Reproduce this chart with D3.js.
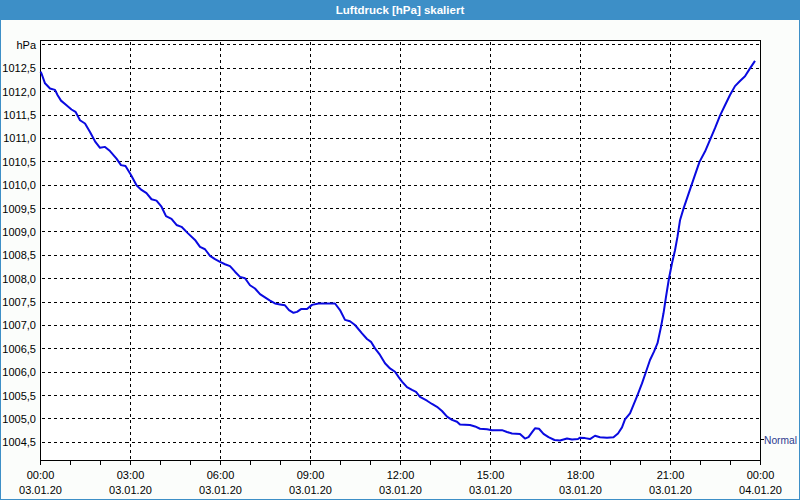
<!DOCTYPE html>
<html><head><meta charset="utf-8">
<script src="https://cdn.jsdelivr.net/npm/d3@7"></script>
<style>
html,body{margin:0;padding:0;background:#fbfdfb;}
svg{display:block;}
</style></head>
<body>
<svg id="chart" width="800" height="500"></svg>
<script>
// ---- data ----
const title = "Luftdruck [hPa] skaliert";
const unitLabel = "hPa";
const normalLabel = "Normal";
const normalValue = 1004.55;
// minutes after 03.01.20 00:00
const minutes = [0,2,9,19,29,34,41,52,62,70,79,89,99,109,119,129,139,152,161,170,181,192,202,212,222,232,242,251,262,272,282,295,309,319,329,339,349,359,369,379,389,399,409,419,429,439,449,459,469,479,489,497,506,513,521,533,543,556,576,589,599,609,619,629,643,653,661,669,679,689,699,709,716,723,733,743,751,759,773,783,793,803,813,823,833,839,859,869,879,893,903,923,933,943,959,969,976,984,989,997,1006,1016,1028,1039,1053,1063,1075,1079,1089,1099,1109,1119,1133,1146,1155,1163,1169,1179,1186,1194,1203,1211,1219,1227,1234,1241,1246,1251,1257,1263,1269,1274,1279,1286,1294,1301,1309,1318,1329,1339,1349,1359,1369,1379,1389,1399,1409,1419,1429];
const pressure = [1012.43,1012.39,1012.18,1012.07,1012.04,1011.93,1011.81,1011.71,1011.62,1011.57,1011.39,1011.32,1011.14,1010.94,1010.80,1010.82,1010.73,1010.57,1010.43,1010.41,1010.22,1010.00,1009.90,1009.83,1009.70,1009.67,1009.54,1009.34,1009.28,1009.15,1009.11,1008.97,1008.83,1008.68,1008.63,1008.49,1008.42,1008.36,1008.31,1008.27,1008.15,1008.04,1008.01,1007.86,1007.79,1007.67,1007.60,1007.53,1007.47,1007.45,1007.43,1007.33,1007.27,1007.29,1007.35,1007.35,1007.44,1007.47,1007.47,1007.47,1007.33,1007.12,1007.09,1007.01,1006.83,1006.71,1006.65,1006.51,1006.37,1006.19,1006.08,1006.01,1005.90,1005.80,1005.68,1005.62,1005.58,1005.47,1005.39,1005.32,1005.26,1005.17,1005.05,1004.98,1004.94,1004.88,1004.87,1004.84,1004.79,1004.78,1004.76,1004.76,1004.72,1004.69,1004.68,1004.58,1004.61,1004.73,1004.80,1004.79,1004.68,1004.61,1004.55,1004.54,1004.58,1004.56,1004.57,1004.60,1004.59,1004.57,1004.64,1004.61,1004.60,1004.61,1004.69,1004.82,1004.99,1005.12,1005.30,1005.51,1005.76,1006.01,1006.26,1006.44,1006.62,1006.97,1007.26,1007.61,1008.01,1008.33,1008.61,1008.90,1009.25,1009.50,1009.75,1009.97,1010.22,1010.50,1010.72,1010.97,1011.22,1011.49,1011.71,1011.93,1012.12,1012.23,1012.33,1012.50,1012.66];
const yTicks = [1004.5,1005.0,1005.5,1006.0,1006.5,1007.0,1007.5,1008.0,1008.5,1009.0,1009.5,1010.0,1010.5,1011.0,1011.5,1012.0,1012.5];
const unitTick = 1013.0;
const xTickMinutes = [0,180,360,540,720,900,1080,1260,1440];
const xTimeLabels = ["00:00","03:00","06:00","09:00","12:00","15:00","18:00","21:00","00:00"];
const xDateLabels = ["03.01.20","03.01.20","03.01.20","03.01.20","03.01.20","03.01.20","03.01.20","03.01.20","04.01.20"];
const xMinorMinutes = d3.range(0, 1441, 60);

// ---- layout ----
const W = 800, H = 500;
const L = 40.5, R = 760.5, T = 40.5, B = 460.5;
const svg = d3.select("#chart");
const font = "'Liberation Sans', Arial, sans-serif";

const x = d3.scaleLinear().domain([0, 1440]).range([L, R]);
const y = d3.scaleLinear().domain([1004.111, 1013.096]).range([B, T]);
const snap = v => Math.round(v - 0.5) + 0.5;

// title bar
const blue = "#3d8fc7";
svg.append("rect").attr("x",0).attr("y",0).attr("width",W).attr("height",20).attr("fill",blue);
svg.append("rect").attr("x",0).attr("y",0).attr("width",1).attr("height",H).attr("fill",blue);
svg.append("rect").attr("x",W-1).attr("y",0).attr("width",1).attr("height",H).attr("fill",blue);
svg.append("rect").attr("x",0).attr("y",H-1).attr("width",W).attr("height",1).attr("fill",blue);
svg.append("text").attr("x",W/2).attr("y",14).attr("text-anchor","middle")
  .attr("font-family",font).attr("font-weight","bold").attr("font-size","11.5px")
  .attr("fill","#ffffff").text(title);

// plot area
svg.append("rect").attr("x",L).attr("y",T).attr("width",R-L).attr("height",B-T).attr("fill","#ffffff");

const grid = svg.append("g").attr("stroke","#000").attr("stroke-width",1).attr("stroke-dasharray","3,3").attr("shape-rendering","crispEdges");
grid.selectAll("line.h").data(yTicks.concat([unitTick])).enter().append("line")
  .attr("x1",L+1).attr("x2",R-1)
  .attr("y1",d=>snap(y(d))).attr("y2",d=>snap(y(d)));
grid.selectAll("line.v").data(xTickMinutes.slice(1,-1)).enter().append("line")
  .attr("x1",d=>snap(x(d))).attr("x2",d=>snap(x(d)))
  .attr("y1",T+1).attr("y2",B);

// frame
svg.append("rect").attr("x",L).attr("y",T).attr("width",R-L).attr("height",B-T)
  .attr("fill","none").attr("stroke","#000").attr("stroke-width",1).attr("shape-rendering","crispEdges");

// y labels
svg.append("g").selectAll("text").data(yTicks).enter().append("text")
  .attr("x",36).attr("y",d=>y(d)+4).attr("text-anchor","end")
  .attr("font-family",font).attr("font-size","11px").attr("fill","#000")
  .text(d=>d3.format(".1f")(d).replace(".",","));
svg.append("text").attr("x",36).attr("y",y(unitTick)+4).attr("text-anchor","end")
  .attr("font-family",font).attr("font-size","11px").attr("fill","#000").text(unitLabel);

// x axis ticks
svg.append("g").attr("stroke","#000").attr("shape-rendering","crispEdges")
  .selectAll("line").data(xMinorMinutes).enter().append("line")
  .attr("x1",d=>snap(x(d))).attr("x2",d=>snap(x(d)))
  .attr("y1",B).attr("y2",B+4);
const xl = svg.append("g").attr("font-family",font).attr("font-size","11px").attr("fill","#000").attr("text-anchor","middle");
xl.selectAll("text.t").data(xTickMinutes).enter().append("text")
  .attr("x",d=>x(d)).attr("y",479).text((d,i)=>xTimeLabels[i]);
xl.selectAll("text.d").data(xTickMinutes).enter().append("text")
  .attr("x",d=>x(d)).attr("y",494).text((d,i)=>xDateLabels[i]);

// normal marker
svg.append("line").attr("x1",R).attr("x2",R+3).attr("y1",snap(y(normalValue))).attr("y2",snap(y(normalValue)))
  .attr("stroke","#000").attr("shape-rendering","crispEdges");
svg.append("text").attr("x",R+3.5).attr("y",y(normalValue)+4)
  .attr("font-family",font).attr("font-size","10.5px").attr("fill","#2b3a8f")
  .attr("textLength",33).attr("lengthAdjust","spacingAndGlyphs").text(normalLabel);

// line
const data = minutes.map((m,i)=>({m, v: pressure[i]}));
svg.append("path").datum(data)
  .attr("fill","none").attr("stroke","#0a0ae0").attr("stroke-width",2).attr("stroke-linejoin","round")
  .attr("d", d3.line().x(d=>x(d.m)).y(d=>y(d.v)));
</script>
</body></html>
